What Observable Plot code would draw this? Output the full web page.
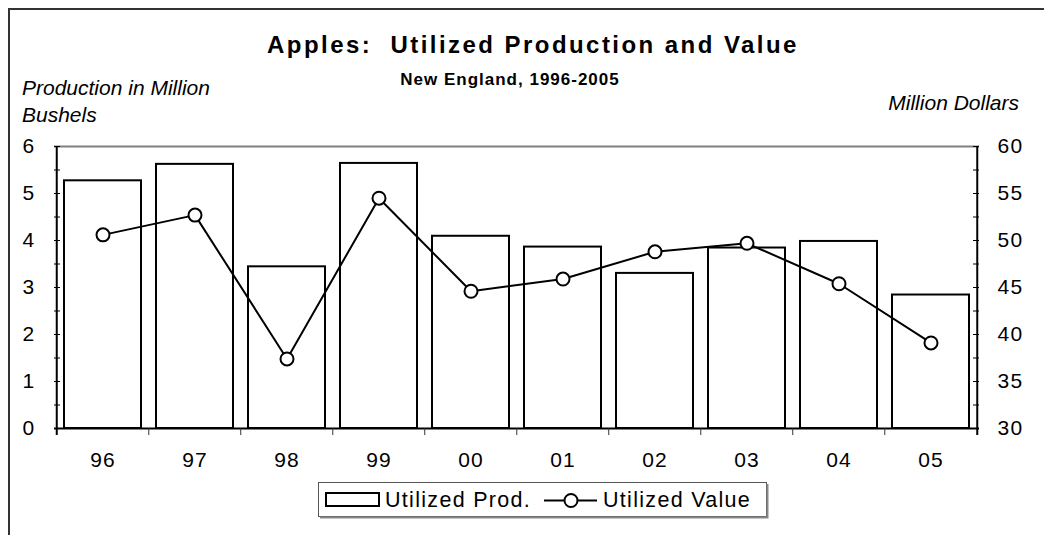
<!DOCTYPE html>
<html>
<head>
<meta charset="utf-8">
<script src="https://cdn.jsdelivr.net/npm/d3@7"></script>
<script src="https://cdn.jsdelivr.net/npm/@observablehq/plot@0.6"></script>
<style>
  html, body { margin: 0; padding: 0; background: #fff; }
  #wrap { position: relative; width: 1044px; height: 535px; overflow: hidden; }
  #wrap svg { position: absolute; left: 0; top: 0; }
</style>
</head>
<body>
<div id="wrap"></div>
<script>
// ---- data ----
const years = ["96", "97", "98", "99", "00", "01", "02", "03", "04", "05"];
const production = [5.27, 5.62, 3.44, 5.64, 4.09, 3.86, 3.30, 3.84, 3.98, 2.84]; // million bushels
const value = [50.6, 52.7, 37.4, 54.5, 44.6, 45.9, 48.8, 49.7, 45.4, 39.1];    // million dollars
const leftTicks = [0, 1, 2, 3, 4, 5, 6];
const rightTicks = [30, 35, 40, 45, 50, 55, 60];
const minorTicks = [0, 0.5, 1, 1.5, 2, 2.5, 3, 3.5, 4, 4.5, 5, 5.5, 6];

const title = "Apples:  Utilized Production and Value";
const subtitle = "New England, 1996-2005";
const leftTitle = ["Production in Million", "Bushels"];
const rightTitle = "Million Dollars";
const legendLabels = ["Utilized Prod.", "Utilized Value"];

// right axis [30,60] mapped onto left axis [0,6]
const toLeft = v => (v - 30) / 5;
const toRight = d => 30 + d * 5;

const data = years.map((y, i) => ({year: y, prod: production[i], val: value[i]}));

// ---- layout ----
const W = 1044, H = 535;
const mL = 54, mR = 65, mT = 146, mB = 107;
const plotW = W - mL - mR;
const half = plotW / years.length / 2;
const font = "'Liberation Sans', Arial, sans-serif";

const chart = Plot.plot({
  width: W, height: H,
  marginLeft: mL, marginRight: mR, marginTop: mT, marginBottom: mB,
  style: {fontFamily: font, fontSize: "21px", color: "black", background: "transparent", overflow: "visible", letterSpacing: "1.2px"},
  x: {type: "band", domain: years, paddingInner: 0.167, paddingOuter: 0.0835, axis: null},
  y: {domain: [0, 6], axis: null},
  marks: [
    Plot.ruleY([6], {stroke: "#808080", strokeWidth: 2}),
    Plot.barY(data, {x: "year", y: "prod", fill: "white", stroke: "black", strokeWidth: 2}),
    Plot.ruleY([0], {stroke: "black", strokeWidth: 2}),
    // left / right axis lines
    Plot.ruleX([years[0]], {dx: -half, y1: -0.15, y2: 6, stroke: "black", strokeWidth: 2}),
    Plot.ruleX([years[years.length - 1]], {dx: half, y1: -0.15, y2: 6, stroke: "black", strokeWidth: 2}),
    // category boundary ticks
    Plot.ruleX(years.slice(1), {dx: -half, y1: 0, y2: -0.15, stroke: "#333", strokeWidth: 1}),
    // inward ticks
    Plot.ruleY(minorTicks, {insetRight: plotW - 6, stroke: "black", strokeWidth: 1}),
    Plot.ruleY(minorTicks, {insetLeft: plotW - 6, stroke: "black", strokeWidth: 1}),
    // value line
    Plot.line(data, {x: "year", y: d => toLeft(d.val), stroke: "black", strokeWidth: 2}),
    Plot.dot(data, {x: "year", y: d => toLeft(d.val), r: 6.5, fill: "white", stroke: "black", strokeWidth: 2}),
    // axes labels
    Plot.axisY({anchor: "left", ticks: leftTicks, tickFormat: d => String(d), tickSize: 0, tickPadding: 19, label: null}),
    Plot.axisY({anchor: "right", ticks: rightTicks.map(toLeft), tickFormat: d => String(toRight(d)), tickSize: 0, tickPadding: 18, label: null}),
    Plot.axisX({anchor: "bottom", tickSize: 0, tickPadding: 24, label: null})
  ]
});

const wrap = document.getElementById("wrap");
wrap.appendChild(chart);

// ---- overlay: frame, titles, legend ----
const ov = d3.create("svg").attr("width", W).attr("height", H)
  .style("font-family", font).style("pointer-events", "none");

ov.append("path").attr("d", "M9,535V9H1044").attr("fill", "none")
  .attr("stroke", "#333").attr("stroke-width", 2);

ov.append("text").attr("x", 533).attr("y", 53).attr("text-anchor", "middle")
  .style("white-space", "pre")
  .attr("font-weight", "bold").attr("font-size", 24).attr("letter-spacing", "2.45px").text(title);
ov.append("text").attr("x", 510).attr("y", 85).attr("text-anchor", "middle")
  .attr("font-weight", "bold").attr("font-size", 17).attr("letter-spacing", "1px").text(subtitle);

ov.append("text").attr("x", 22).attr("y", 95).attr("font-style", "italic").attr("font-size", 21).text(leftTitle[0]);
ov.append("text").attr("x", 22).attr("y", 122).attr("font-style", "italic").attr("font-size", 21).text(leftTitle[1]);
ov.append("text").attr("x", 1019).attr("y", 110).attr("text-anchor", "end").attr("font-style", "italic").attr("font-size", 21).text(rightTitle);

// legend
const lg = ov.append("g");
lg.append("rect").attr("x", 318.5).attr("y", 482.5).attr("width", 448).attr("height", 34)
  .attr("fill", "white").attr("stroke", "#555").attr("stroke-width", 1);
lg.append("path").attr("d", "M320,517.5H767.5V484").attr("fill", "none").attr("stroke", "#888").attr("stroke-width", 2);
lg.append("rect").attr("x", 326).attr("y", 493).attr("width", 53).attr("height", 13)
  .attr("fill", "white").attr("stroke", "black").attr("stroke-width", 2);
lg.append("text").attr("x", 385).attr("y", 507).attr("font-size", 21.5).attr("letter-spacing", "1.3px").text(legendLabels[0]);
lg.append("path").attr("d", "M544,500.5H597").attr("stroke", "black").attr("stroke-width", 2);
lg.append("circle").attr("cx", 571).attr("cy", 500.5).attr("r", 6.5)
  .attr("fill", "white").attr("stroke", "black").attr("stroke-width", 2);
lg.append("text").attr("x", 603).attr("y", 507).attr("font-size", 21.5).attr("letter-spacing", "1.3px").text(legendLabels[1]);

wrap.appendChild(ov.node());
</script>
</body>
</html>
